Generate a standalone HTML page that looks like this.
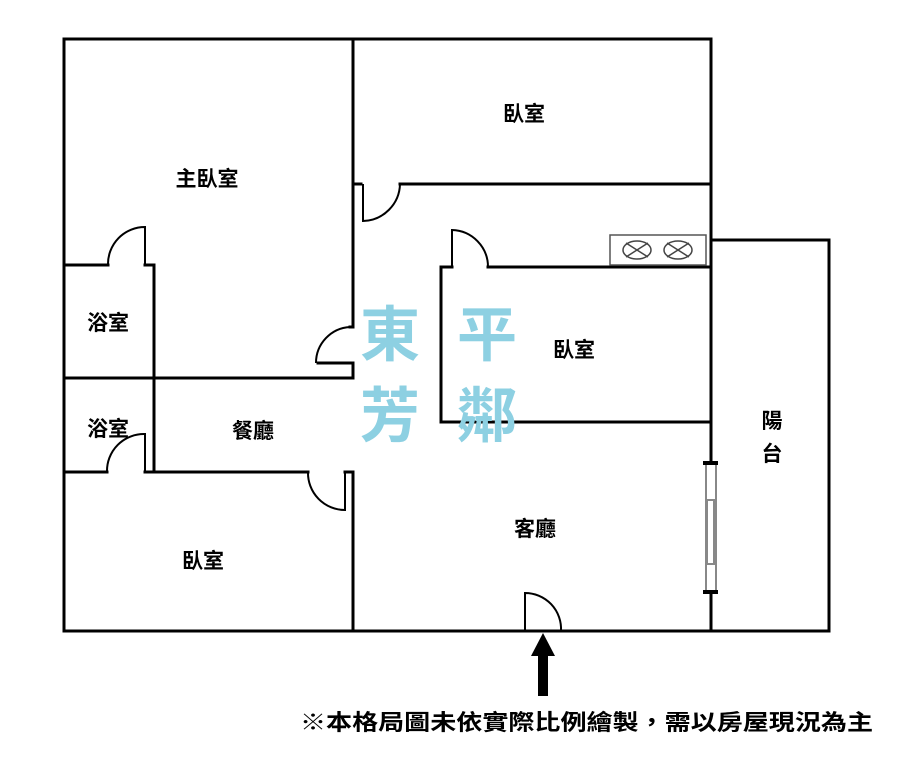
<!DOCTYPE html>
<html><head><meta charset="utf-8"><style>
html,body{margin:0;padding:0;background:#fff;width:900px;height:759px;overflow:hidden}
svg{display:block}
text{font-family:"Liberation Sans","Noto Sans CJK TC",sans-serif;font-weight:bold}
</style></head><body>
<svg width="900" height="759" viewBox="0 0 900 759" xmlns="http://www.w3.org/2000/svg">
<g stroke="#000" stroke-width="3" fill="none" stroke-linecap="square">
<polyline points="64,39 711,39 711,631 64,631 64,39"/>
<polyline points="711,240 829,240 829,631 711,631"/>
<polyline points="353,39 353,327 350,327"/>
<polyline points="318,363 353,363 353,378"/>
<line x1="64" y1="378" x2="353" y2="378"/>
<polyline points="353,184 361,184"/>
<line x1="400" y1="184" x2="711" y2="184"/>
<polyline points="441,422 441,267 452,267"/>
<line x1="488" y1="267" x2="711" y2="267"/>
<line x1="441" y1="422" x2="711" y2="422"/>
<line x1="64" y1="265" x2="108" y2="265"/>
<polyline points="145,265 154,265 154,472"/>
<line x1="64" y1="472" x2="107" y2="472"/>
<line x1="145" y1="472" x2="308" y2="472"/>
<line x1="345" y1="472" x2="353" y2="472"/>
<line x1="353" y1="472" x2="353" y2="631"/>
</g>
<g stroke="#000" stroke-width="2" fill="none">
<path d="M363,184 L363,221 A38,38 0 0 0 400,184"/>
<path d="M452,267 L452,230 A37,37 0 0 1 488,267"/>
<path d="M316,363 A36,36 0 0 1 350,327"/>
<path d="M145,265 L145,227 A37,37 0 0 0 108,265"/>
<path d="M145,472 L145,434 A37,37 0 0 0 107,472"/>
<path d="M345,472 L345,510 A37,37 0 0 1 308,472"/>
<path d="M525,631 L525,593 A36,36 0 0 1 561,631"/>
<rect x="610" y="235" width="96" height="30" stroke="#555" stroke-width="1.5"/>
<ellipse cx="637" cy="250" rx="14" ry="9" stroke="#444" stroke-width="1.5"/>
<ellipse cx="678" cy="250" rx="14" ry="9" stroke="#444" stroke-width="1.5"/>
<path d="M626,243 L648,257 M648,243 L626,257 M667,243 L689,257 M689,243 L667,257" stroke="#444" stroke-width="1.5"/>
</g>
<rect x="706" y="462" width="10" height="130" fill="#fff" stroke="#888" stroke-width="2"/>
<rect x="707" y="500" width="7" height="64" fill="#fff" stroke="#888" stroke-width="2"/>
<line x1="703" y1="463" x2="718" y2="463" stroke="#000" stroke-width="4"/>
<line x1="703" y1="592" x2="718" y2="592" stroke="#000" stroke-width="4"/>
<rect x="538" y="655" width="10" height="41" fill="#000"/>
<polygon points="531,656 543,633 555,656" fill="#000"/>
<g font-size="21" fill="#000">
<text x="207" y="186" text-anchor="middle">主臥室</text>
<text x="524" y="121" text-anchor="middle">臥室</text>
<text x="108" y="330" text-anchor="middle">浴室</text>
<text x="108" y="436" text-anchor="middle">浴室</text>
<text x="253" y="438" text-anchor="middle">餐廳</text>
<text x="574" y="357" text-anchor="middle">臥室</text>
<text x="535" y="536" text-anchor="middle">客廳</text>
<text x="203" y="568" text-anchor="middle">臥室</text>
<text x="772" y="428" text-anchor="middle">陽</text>
<text x="772" y="461" text-anchor="middle">台</text>
</g>
<g font-size="60" fill="#8dd0e2" text-anchor="middle">
<text x="390" y="356">東</text>
<text x="487" y="356">平</text>
<text x="390" y="437">芳</text>
<text x="487" y="437">鄰</text>
</g>
<text x="300" y="730" font-size="22" fill="#000" textLength="573" lengthAdjust="spacingAndGlyphs">※本格局圖未依實際比例繪製，需以房屋現況為主</text>
</svg>
</body></html>
